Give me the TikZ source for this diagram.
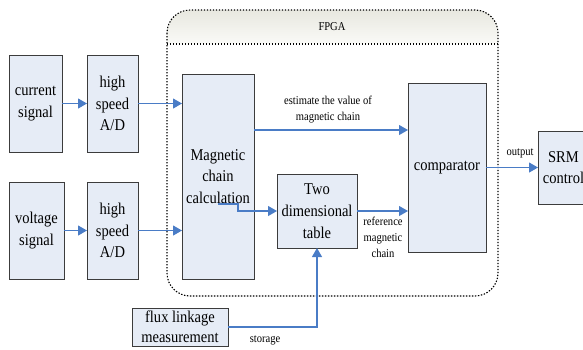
\documentclass[tikz,border=0pt]{standalone}
\usepackage{fontspec}
\setmainfont{Liberation Serif}[FakeStretch=0.88]
\usetikzlibrary{arrows.meta,calc}

\definecolor{boxfill}{HTML}{E6ECF6}
\definecolor{boxline}{HTML}{3C3C3C}
\definecolor{flow}{HTML}{4A7CC6}
\definecolor{headtop}{HTML}{E8E8E0}
\definecolor{headbot}{HTML}{FAFAF7}

\tikzset{
  blockbox/.style={draw=boxline, fill=boxfill, line width=0.9pt, align=center,
    inner sep=0pt, outer sep=0pt, font=\fontsize{16.5}{21.7}\selectfont},
  flowarrow/.style={draw=flow, line width=1.1pt, -{Triangle[length=9pt,width=10pt]}},
  flowline/.style={draw=flow, line width=1.1pt},
  smalltext/.style={align=center, inner sep=0pt, font=\fontsize{12}{16}\selectfont},
  fpgaline/.style={draw=black, line width=1.1pt, dash pattern=on 1.4pt off 1.6pt}
}

\begin{document}
\begin{tikzpicture}[x=1pt,y=-1pt]
\useasboundingbox (0,0) rectangle (583,349);
\clip (0,0) rectangle (583,349);

% FPGA container: shaded title band and dotted outline
\shade[top color=headtop, bottom color=headbot]
  (167,44) [rounded corners=23pt] -- (167,10) -- (498,10) [sharp corners] -- (498,44) -- cycle;
\draw[fpgaline, rounded corners=23pt] (167,10) rectangle (498,296);
\draw[fpgaline] (167,44) -- (498,44);
\node[smalltext] (fpga) at (332,27) {FPGA};

% signal sources and converters
\node[blockbox, minimum width=53pt, minimum height=97pt] (cur) at (35.5,103.5) {current\\signal};
\node[blockbox, minimum width=51pt, minimum height=97pt] (ad1) at (112.5,103.5) {high\\speed\\A/D};
\node[blockbox, minimum width=55pt, minimum height=97pt] (vol) at (36.5,230.5) {voltage\\signal};
\node[blockbox, minimum width=51pt, minimum height=97pt] (ad2) at (112.5,230.5) {high\\speed\\A/D};

% processing blocks
\node[blockbox, minimum width=72pt, minimum height=205pt] (mcc) at (218,176.5) {Magnetic\\chain\\calculation};
\node[blockbox, minimum width=80pt, minimum height=74pt] (tab) at (317,211) {Two\\dimensional\\table};
\node[blockbox, minimum width=78pt, minimum height=169pt] (cmp) at (447,167.5) {comparator};
\node[blockbox, minimum width=51pt, minimum height=73pt] (srm) at (563.5,167.5) {SRM\\control};
\node[blockbox, minimum width=96pt, minimum height=38pt, font=\fontsize{16.5}{20}\selectfont] (flux) at (180,327) {flux linkage\\measurement};

% connectors
\draw[flowarrow] (cur.east) -- (ad1.west);
\draw[flowarrow] (vol.east) -- (ad2.west);
\draw[flowarrow] (ad1.east) -- (mcc.west |- ad1.east);
\draw[flowarrow] (ad2.east) -- (mcc.west |- ad2.east);

\coordinate (est) at (mcc.east |- 0,130);
\draw[flowarrow] (est) -- (cmp.west |- est);
\node[smalltext] (estlabel) at (328,110) {estimate the value of\\magnetic chain};

\coordinate (mout) at (218,204);
\draw[flowarrow] (mout) -- ++(20,0) |- (tab.west);

\draw[flowarrow] (tab.east) -- (cmp.west |- tab.east);
\node[smalltext] (reflabel) at (383,237) {reference\\magnetic\\chain};

\draw[flowarrow] (cmp.east) -- (srm.west);
\node[smalltext] (outlabel) at (520,153) {output};

\draw[flowarrow] (flux.east) -| (tab.south);
\node[smalltext] (storelabel) at (265,340) {storage};
\end{tikzpicture}
\end{document}
